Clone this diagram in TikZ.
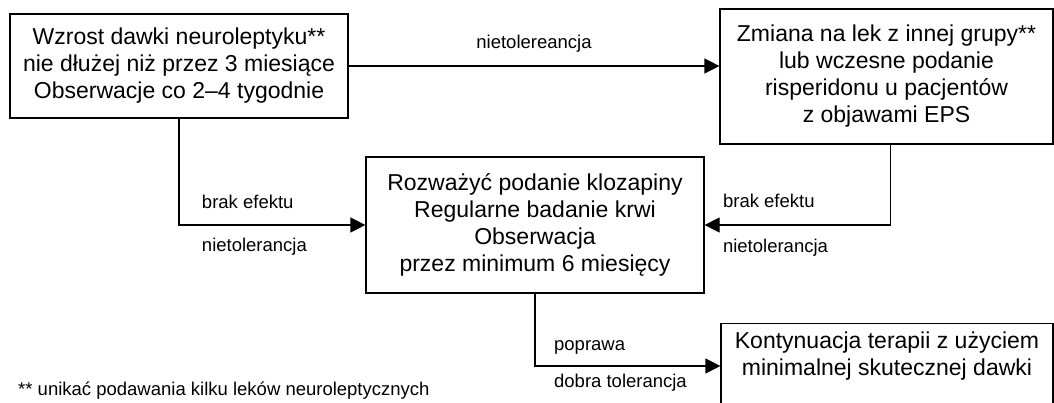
\documentclass[tikz,border=0pt]{standalone}
\usepackage{fontspec}
\setmainfont{Liberation Sans}
\usetikzlibrary{arrows.meta, positioning, calc}

\begin{document}
\begin{tikzpicture}[
    x=1pt, y=-1pt,
    box/.style={rectangle, draw, line width=1.2pt, align=center, font=\fontsize{23}{27}\selectfont},
    lbl/.style={font=\fontsize{18.5}{22}\selectfont, inner sep=0pt},
    arrow/.style={-{Triangle[length=15pt, width=15pt]}, line width=1.2pt}
]

\useasboundingbox (0,0) rectangle (1054,402);
\fill[white] (0,0) rectangle (1054,402);
\clip (0,0) rectangle (1054,402);

% Nodes
\node[box, minimum width=338pt, minimum height=104pt] (wzrost) at (179,66) {Wzrost dawki neuroleptyku**\\nie dłużej niż przez 3 miesiące\\Obserwacje co 2--4 tygodnie};
\node[box, minimum width=333pt, minimum height=135pt] (zmiana) at (886.5,76.5) {Zmiana na lek z innej grupy**\\lub wczesne podanie\\risperidonu u pacjentów\\z objawami EPS};
\node[box, minimum width=338pt, minimum height=136pt] (kloz) at (535,225) {Rozważyć podanie klozapiny\\Regularne badanie krwi\\Obserwacja\\przez minimum 6 miesięcy};
\node[box, anchor=north, inner sep=8pt, minimum width=332pt] (kont) at (887,323) {\parbox[c][110pt][t]{310pt}{\centering Kontynuacja terapii z użyciem\\minimalnej skutecznej dawki}};

% Footnote
\node[lbl, anchor=base west] (przypis) at (18,395) {** unikać podawania kilku leków neuroleptycznych};

% Arrows
\draw[arrow] (wzrost.east) -- node[lbl, anchor=base, yshift=18pt] {nietolereancja} (wzrost.east -| zmiana.west);
\draw[arrow] (wzrost.south) |- node[pos=0.56, lbl, anchor=base west, yshift=17pt] {brak efektu}
    node[pos=0.56, lbl, anchor=base west, yshift=-26pt] {nietolerancja} (kloz.west);
\draw[arrow] ([xshift=4pt]zmiana.south) |- node[pos=0.952, lbl, anchor=base west, yshift=18pt] {brak efektu}
    node[pos=0.952, lbl, anchor=base west, yshift=-27pt] {nietolerancja} (kloz.east);
\draw[arrow] (kloz.south) |- node[pos=0.55, lbl, anchor=base west, yshift=16pt] {poprawa}
    node[pos=0.55, lbl, anchor=base west, yshift=-21pt] {dobra tolerancja} ([yshift=-43pt]kont.north west);

\end{tikzpicture}
\end{document}
